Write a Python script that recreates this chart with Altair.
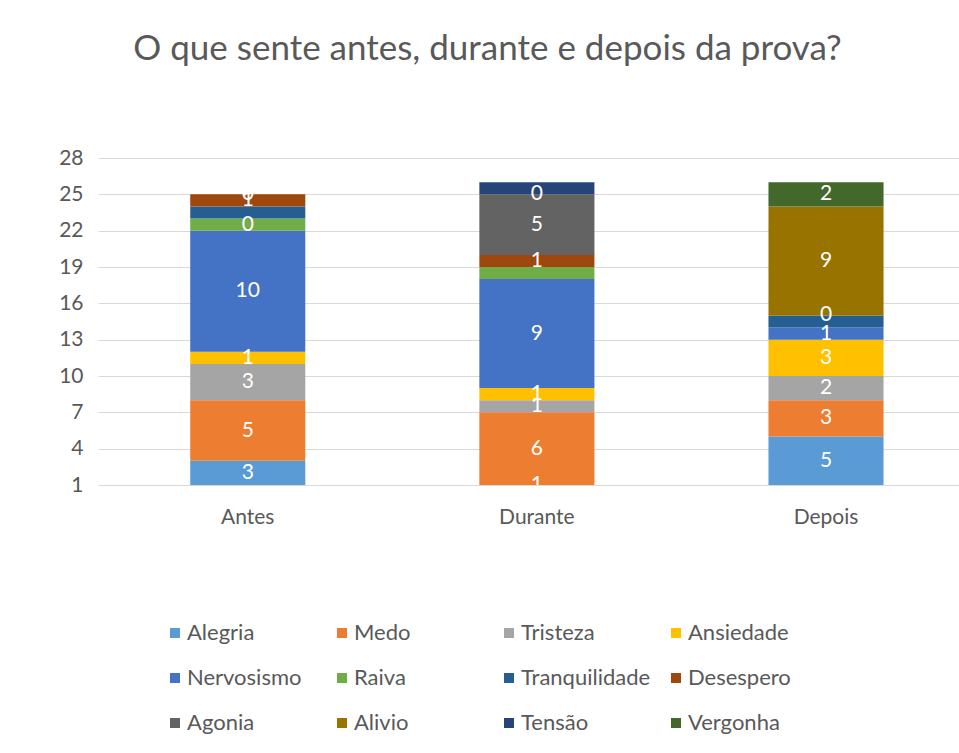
import altair as alt
import pandas as pd

categories = ["Antes", "Durante", "Depois"]
series = ["Alegria", "Medo", "Tristeza", "Ansiedade", "Nervosismo", "Raiva",
          "Tranquilidade", "Desespero", "Agonia", "Alivio", "Tensão", "Vergonha"]
colors = ["#5B9BD5", "#ED7D31", "#A5A5A5", "#FFC000", "#4472C4", "#70AD47",
          "#255E91", "#9E480E", "#636363", "#997300", "#264478", "#43682B"]

antes = [3, 5, 3, 1, 10, 1, 1, 1, 0, 0, 0, 0]
durante = [1, 6, 1, 1, 9, 1, 0, 1, 5, 0, 1, 0]
depois = [5, 3, 2, 3, 1, 0, 1, 0, 0, 9, 0, 2]

# data labels as they appear on the picture
antes_labels = ["3", "5", "3", "1", "10", "0", "", "1", "0", "", "", ""]
durante_labels = ["1", "6", "1", "1", "9", "", "", "1", "5", "0", "", ""]
depois_labels = ["5", "3", "2", "3", "1", "", "", "", "0", "9", "", "2"]

y_ticks = [1, 4, 7, 10, 13, 16, 19, 22, 25, 28]
y_min, y_max = 1, 28

rows = []
for cat, vals, labs in zip(categories, [antes, durante, depois],
                           [antes_labels, durante_labels, depois_labels]):
    start = 0
    for i, (s, v, lab) in enumerate(zip(series, vals, labs)):
        end = start + v
        lo = max(start, y_min)
        hi = max(end, y_min)
        rows.append({"cat": cat, "serie": s, "order": i, "start": start,
                     "end": end, "mid": (lo + hi) / 2, "label": lab})
        start = end
df = pd.DataFrame(rows)

FONT = "Lato"
GREY = "#595959"

x_scale = alt.Scale(paddingInner=0.602, paddingOuter=0.29, align=0.55)
y_scale = alt.Scale(domain=[y_min, y_max], nice=False, zero=False)
x_axis = alt.Axis(labelAngle=0, labelFontSize=21, labelColor=GREY,
                  labelFont=FONT, labelPadding=21, ticks=False,
                  grid=False, domainColor="#D9D9D9", domainWidth=1)
y_axis = alt.Axis(values=y_ticks, labelFontSize=21,
                  labelColor=GREY, labelFont=FONT, labelPadding=15,
                  ticks=False, labelOverlap=False, labelFlush=False,
                  domain=False, grid=True,
                  gridColor="#D9D9D9", gridWidth=1)

bars = alt.Chart(df).mark_bar(clip=True).encode(
    x=alt.X("cat:N", sort=categories, title=None, scale=x_scale, axis=x_axis),
    y=alt.Y("start:Q", scale=y_scale, title=None, axis=y_axis),
    y2="end:Q",
    color=alt.Color("serie:N", sort=series,
                    scale=alt.Scale(domain=series, range=colors),
                    legend=alt.Legend(title=None, orient="none", columns=4,
                                      direction="horizontal",
                                      gridAlign="all", symbolType="square",
                                      symbolSize=100, symbolStrokeWidth=0,
                                      labelFont=FONT, labelFontSize=22,
                                      labelColor=GREY, labelOffset=1,
                                      columnPadding=14, rowPadding=23,
                                      legendX=66, legendY=464)),
    order=alt.Order("order:Q"),
)

labels = alt.Chart(df).mark_text(clip=True, color="white", font=FONT,
                                 fontSize=21, baseline="middle").encode(
    x=alt.X("cat:N", sort=categories, title=None, scale=x_scale, axis=x_axis),
    y=alt.Y("mid:Q", scale=y_scale, title=None, axis=y_axis),
    text="label:N",
)

chart = alt.layer(bars, labels).properties(
    width=861, height=327,
    background="white",
    title=alt.Title("O que sente antes, durante e depois da prova?",
                    font=FONT, fontSize=35, fontWeight="normal", color=GREY,
                    anchor="middle", dx=-41, offset=80),
    autosize=alt.AutoSizeParams(type="none"),
    padding={"left": 98, "top": 158, "right": 0, "bottom": 268},
).configure_view(strokeWidth=0)

chart.save("out.html", embed_options={"renderer": "svg", "actions": False})
